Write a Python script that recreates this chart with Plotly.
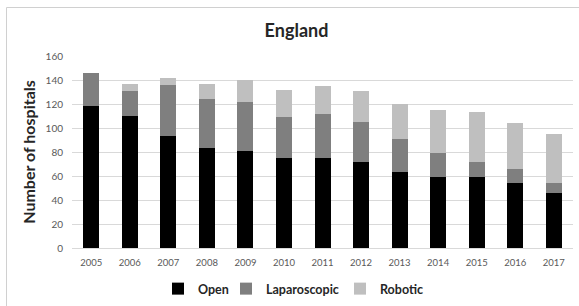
import plotly.graph_objects as go

years = ["2005", "2006", "2007", "2008", "2009", "2010", "2011", "2012", "2013", "2014", "2015", "2016", "2017"]
open_vals = [118, 110, 93, 83, 81, 75, 75, 72, 63, 59, 59, 54, 46]
lap_vals = [28, 21, 43, 41, 41, 34, 37, 33, 28, 20, 13, 12, 8]
rob_vals = [0, 6, 6, 13, 18, 23, 23, 26, 29, 36, 41, 38, 41]

series = [("Open", open_vals, "#000000"),
          ("Laparoscopic", lap_vals, "#7f7f7f"),
          ("Robotic", rob_vals, "#bfbfbf")]

FONT = "Lato, 'Open Sans', sans-serif"

W, H = 579, 306
L, R, T, B = 72, 6, 56, 58
pw, ph = W - L - R, H - T - B

# left edge (px) of each legend entry box
legend_left_x = [158, 226, 340]
legend_names = ["legend", "legend2", "legend3"]

fig = go.Figure()
for (name, vals, col), lg in zip(series, legend_names):
    fig.add_trace(go.Bar(x=years, y=vals, name="<b>" + name + "</b>", legend=lg,
                         marker=dict(color=col, line=dict(width=0))))

legend_style = {}
for lg, lx in zip(legend_names, legend_left_x):
    legend_style[lg] = dict(orientation="h", x=(lx - L) / pw, xanchor="left",
                            y=(248 - 289) / ph, yanchor="middle",
                            font=dict(family=FONT, size=12.5, color="#262626"),
                            itemwidth=30, bgcolor="rgba(0,0,0,0)")

fig.update_layout(
    width=W, height=H,
    barmode="stack", bargap=0.585,
    margin=dict(l=L, r=R, t=T, b=B, autoexpand=False),
    paper_bgcolor="white", plot_bgcolor="white",
    font=dict(family=FONT, color="#595959", size=10),
    title=dict(text="<b>England</b>", font=dict(family=FONT, size=18, color="#262626"),
               x=296.5 / W, xref="container", xanchor="center",
               y=1 - 31 / H, yref="container", yanchor="middle"),
    showlegend=True,
    **legend_style,
    xaxis=dict(type="category", showgrid=False, showline=True, linecolor="#d9d9d9", linewidth=1,
               ticks="", ticklabelstandoff=6, tickfont=dict(size=9.5, color="#595959")),
    yaxis=dict(range=[0, 160], dtick=20, showgrid=True, gridcolor="#d9d9d9", gridwidth=1,
               zeroline=False, showline=False, ticks="", ticklabelstandoff=8,
               tickfont=dict(size=10, color="#595959"),
               title=dict(text="<b>Number of hospitals</b>", standoff=5,
                          font=dict(family=FONT, size=16, color="#262626"))),
    shapes=[dict(type="rect", xref="paper", yref="paper",
                 x0=(6.5 - L) / pw, x1=1.5, y0=-1, y1=(248 - 7.5) / ph,
                 line=dict(color="#d0d0d0", width=1), fillcolor="rgba(0,0,0,0)", layer="above")],
)

fig.write_html("out.html", config={"displayModeBar": False},
               post_script="document.body.style.margin='0';")
